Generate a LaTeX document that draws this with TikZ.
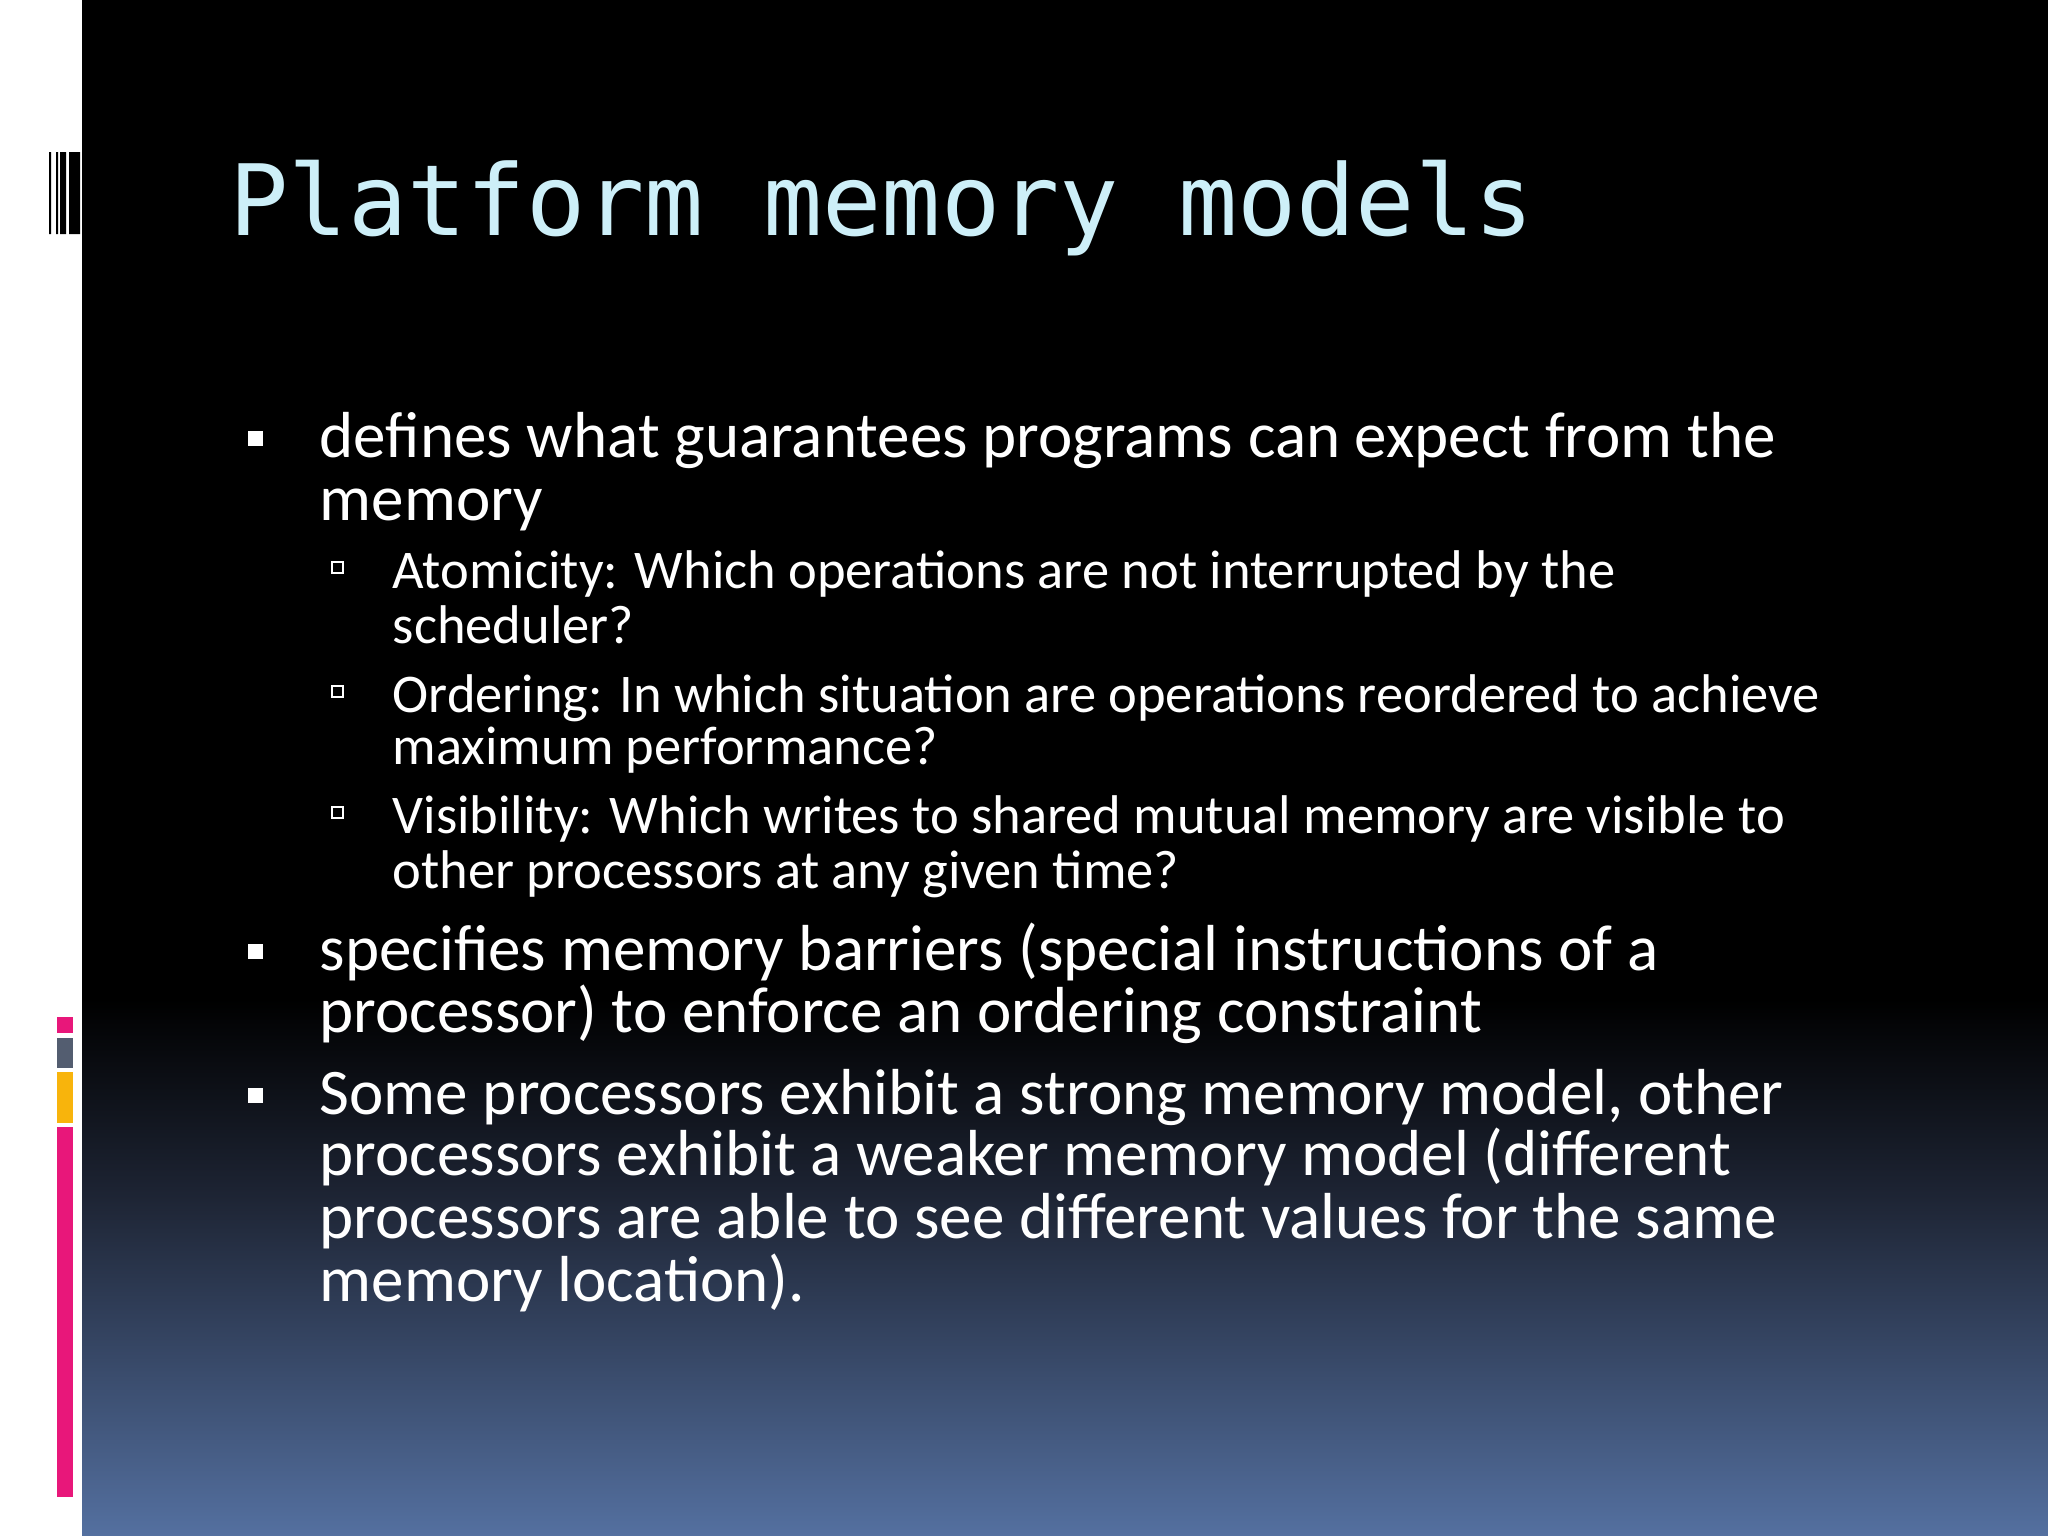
\documentclass[tikz,border=0pt]{standalone}
\usepackage{fontspec}
\setmainfont{Carlito}
\newfontfamily\titlefont{DejaVu Sans Mono}
\definecolor{titlec}{HTML}{CDEFF8}
\definecolor{bgbot}{HTML}{5470A0}
\definecolor{bgmid}{HTML}{1E2535}
\definecolor{pinkc}{HTML}{E8177A}
\definecolor{grayc}{HTML}{535D70}
\definecolor{yelc}{HTML}{F8B40C}
\tikzset{
 lone/.style={anchor=base west,inner sep=0,text=white,font=\fontsize{18.5}{22}\selectfont},
 ltwo/.style={anchor=base west,inner sep=0,text=white,font=\fontsize{15.5}{18}\selectfont},
 bone/.style={fill=white,draw=none},
 btwo/.style={draw=white,line width=0.6pt,fill=none}
}
\begin{document}
\begin{tikzpicture}[x=0.01cm,y=-0.01cm]
\useasboundingbox (0,0) rectangle (2048,1536);
\fill[white] (0,0) rectangle (82,1536);
\fill[black] (82,0) rectangle (2048,1000);
\shade[top color=black,bottom color=bgmid] (82,999) rectangle (2048,1200);
\shade[top color=bgmid,bottom color=bgbot] (82,1199) rectangle (2048,1536);
% barcode
\fill[black] (49,152) rectangle (51,234) (56,152) rectangle (58,234) (60,152) rectangle (66,234) (69,152) rectangle (80,234);
% colour strips
\fill[pinkc] (57,1017) rectangle (73,1033);
\fill[grayc] (57,1038) rectangle (73,1068);
\fill[yelc] (57,1072) rectangle (73,1123);
\fill[pinkc] (57,1127) rectangle (73,1497);
% title
\node[anchor=base west,inner sep=0,text=titlec,font=\titlefont\fontsize{28}{32}\selectfont] (title) at (229,235) {Platform memory models};
% level 1 bullets
\foreach \y in {457,970,1114} \fill[white] (248,\y-26) rectangle +(15,15);
\foreach \y in {588,712,833} \draw[btwo] (332,\y-26) rectangle +(11,11);
\node[lone] (a1) at (319,457) {defines what guarantees programs can expect from the};
\node[lone] (a2) at (319,520) {memory};
\node[ltwo] (b1) at (392,588) {Atomicity: Which operations are not interrupted by the};
\node[ltwo] (b2) at (392,643) {scheduler?};
\node[ltwo] (c1) at (392,712) {Ordering: In which situation are operations reordered to achieve};
\node[ltwo] (c2) at (392,764) {maximum performance?};
\node[ltwo] (d1) at (392,833) {Visibility: Which writes to shared mutual memory are visible to};
\node[ltwo] (d2) at (392,888) {other processors at any given time?};
\node[lone] (e1) at (319,970) {specifies memory barriers (special instructions of a};
\node[lone] (e2) at (319,1032) {processor) to enforce an ordering constraint};
\node[lone] (f1) at (319,1114) {Some processors exhibit a strong memory model, other};
\node[lone] (f2) at (319,1175) {processors exhibit a weaker memory model (different};
\node[lone] (f3) at (319,1238) {processors are able to see different values for the same};
\node[lone] (f4) at (319,1301) {memory location).};
\end{tikzpicture}
\end{document}
